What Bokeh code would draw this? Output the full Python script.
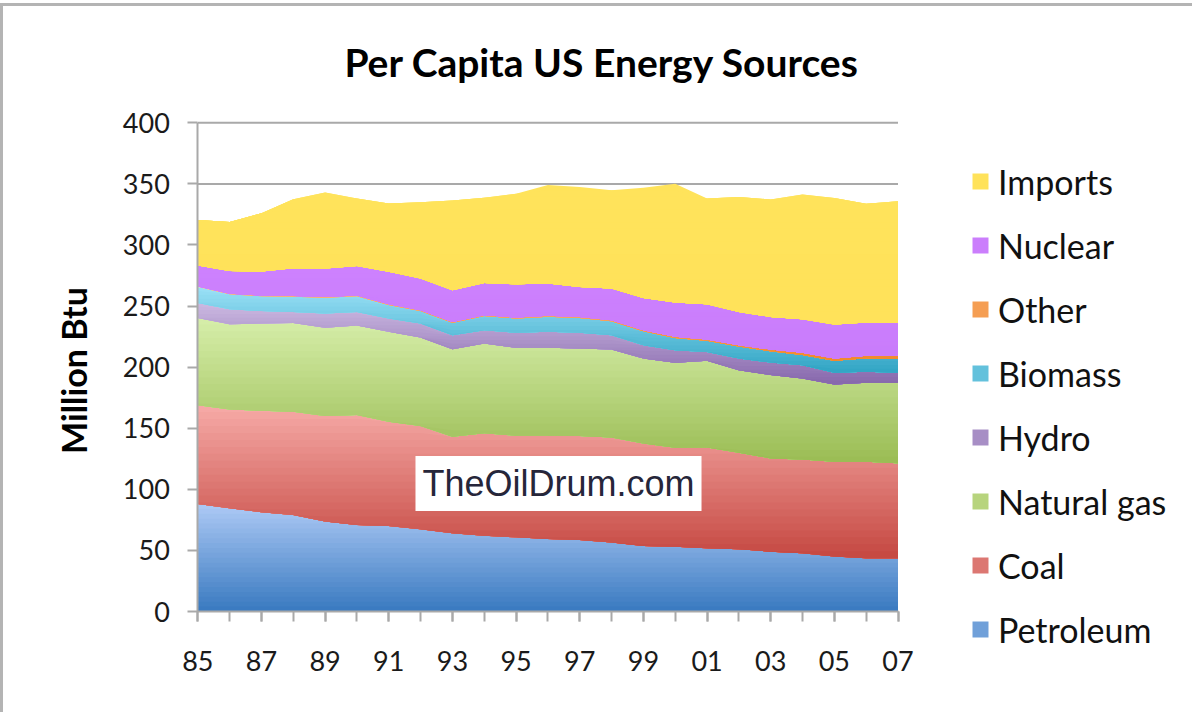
import numpy as np
from bokeh.plotting import figure
from bokeh.models import Range1d, FixedTicker, Legend, LegendItem, Label
from bokeh.embed import file_html
from bokeh.resources import INLINE

# ---------------- data (million Btu per capita) ----------------
years = list(range(1985, 2008))
x_tick_years = [1985, 1987, 1989, 1991, 1993, 1995, 1997, 1999, 2001, 2003, 2005, 2007]
x_tick_labels = ["85", "87", "89", "91", "93", "95", "97", "99", "01", "03", "05", "07"]
y_ticks = [0, 50, 100, 150, 200, 250, 300, 350, 400]

petroleum = [88.0, 84.5, 81.2, 79.0, 73.6, 70.8, 70.0, 67.3, 64.0, 61.9, 60.8, 59.4,
             58.6, 56.4, 53.7, 53.1, 51.8, 51.0, 49.0, 47.7, 45.0, 43.6, 43.6]
coal = [80.9, 80.9, 83.1, 84.5, 86.4, 90.0, 85.3, 84.5, 79.1, 83.9, 83.1, 84.5,
        85.0, 86.1, 83.9, 80.9, 82.5, 79.0, 76.3, 76.8, 77.6, 79.0, 77.7]
natural_gas = [71.4, 69.7, 71.4, 72.7, 72.2, 73.2, 73.6, 72.5, 71.6, 73.5, 71.9, 71.9,
               71.7, 71.9, 69.5, 69.5, 70.9, 67.5, 68.2, 66.2, 63.2, 64.6, 65.9]
hydro = [12.3, 12.3, 10.3, 9.0, 11.7, 11.2, 10.9, 11.4, 11.5, 10.9, 12.3, 13.1,
         12.8, 11.8, 10.9, 10.4, 7.3, 9.6, 10.3, 10.9, 9.6, 9.0, 8.2]
biomass = [13.0, 12.2, 12.0, 12.5, 13.0, 12.8, 11.1, 10.3, 10.1, 11.6, 11.8, 12.3,
           12.2, 11.4, 11.3, 10.0, 9.1, 9.7, 9.2, 8.4, 9.8, 11.1, 11.4]
other = [0.5, 0.5, 0.6, 0.6, 0.6, 0.6, 0.6, 0.6, 0.7, 0.7, 0.7, 0.8,
         0.8, 0.8, 0.9, 0.9, 1.0, 1.2, 1.4, 1.7, 1.9, 2.0, 2.5]
nuclear = [17.2, 18.5, 19.6, 22.7, 23.2, 24.2, 26.5, 25.9, 25.9, 26.4, 27.2, 26.4,
           24.6, 25.9, 26.5, 28.1, 28.9, 27.2, 26.7, 27.5, 27.8, 27.2, 27.2]
imports = [37.1, 40.2, 47.8, 56.5, 62.3, 55.2, 56.0, 62.5, 73.6, 69.8, 74.2, 80.6,
           81.7, 80.4, 90.2, 97.2, 86.5, 94.0, 96.2, 102.2, 103.5, 97.3, 99.2]

series_names = ["Petroleum", "Coal", "Natural gas", "Hydro", "Biomass", "Other", "Nuclear", "Imports"]
series_values = [petroleum, coal, natural_gas, hydro, biomass, other, nuclear, imports]
# (light colour at top of gradient, dark colour at bottom)
series_colors = [("#abc8f4", "#3b7bc1"), ("#f5a8a5", "#c64a43"), ("#d5eda8", "#9bbd55"),
                 ("#cab7e0", "#8869ad"), ("#98dff5", "#33a6c5"), ("#fbb57d", "#f08a2c"),
                 ("#cd81fe", "#c97cfb"), ("#ffe35b", "#ffe25a")]
N_LAYERS = 22

# ---------------- layout (page pixels) ----------------
PAGE_X0, PAGE_Y0 = 3, 6          # canvas origin on the page (after margin + border)
FIG_W, FIG_H = 1192, 709
X_FIRST_PX, X_LAST_PX = 197.3, 897.5   # page x of first / last year
Y0_PX, Y400_PX = 611.0, 122.3          # page y of value 0 / 400

x_per_px = (years[-1] - years[0]) / (X_LAST_PX - X_FIRST_PX)
y_per_px = (y_ticks[-1] - y_ticks[0]) / (Y0_PX - Y400_PX)
x_start = years[0] - (X_FIRST_PX - PAGE_X0) * x_per_px
x_end = x_start + FIG_W * x_per_px
y_end = (Y0_PX - PAGE_Y0) * y_per_px
y_start = y_end - FIG_H * y_per_px


def px2x(px):
    return years[0] + (px - X_FIRST_PX) * x_per_px


def px2y(py):
    return (Y0_PX - py) * y_per_px


def mix(c1, c2, t):
    a = [int(c1[i:i + 2], 16) for i in (1, 3, 5)]
    b = [int(c2[i:i + 2], 16) for i in (1, 3, 5)]
    return "#" + "".join("%02x" % int(round(a[k] + (b[k] - a[k]) * t)) for k in range(3))


p = figure(width=FIG_W, height=FIG_H, output_backend="svg", toolbar_location=None, title=None,
           x_range=Range1d(x_start, x_end), y_range=Range1d(y_start, y_end),
           min_border_left=0, min_border_right=0, min_border_top=0, min_border_bottom=0,
           background_fill_color="white", border_fill_color="white")
p.styles = {"margin-top": "3px", "border-top": "3px solid #b4b4b4", "border-left": "3px solid #b4b4b4"}
p.outline_line_color = None
p.xgrid.visible = False
p.ygrid.visible = False

# horizontal gridlines across the data extent
grid_y = [t for t in y_ticks if t > 0]
p.segment(x0=[years[0]] * len(grid_y), x1=[years[-1]] * len(grid_y), y0=grid_y, y1=grid_y,
          line_color="#a9a9a9", line_width=2)

# axes fixed at the data origin
p.xaxis.fixed_location = 0
p.yaxis.fixed_location = years[0]
p.xaxis.bounds = (years[0], years[-1])
p.yaxis.bounds = (y_ticks[0], y_ticks[-1])
p.yaxis.ticker = FixedTicker(ticks=y_ticks)
p.xaxis.ticker = FixedTicker(ticks=x_tick_years, minor_ticks=years)
p.xaxis.major_label_overrides = {y: lab for y, lab in zip(x_tick_years, x_tick_labels)}

for ax in (p.xaxis[0], p.yaxis[0]):
    ax.axis_line_color = "#a9a9a9"
    ax.axis_line_width = 2
    ax.major_tick_line_color = "#a9a9a9"
    ax.major_tick_line_width = 2
    ax.major_tick_in = 0
    ax.major_tick_out = 10
    ax.major_label_text_font = "Lato"
    ax.major_label_text_font_size = "27px"
    ax.major_label_text_color = "#1a1a1a"
p.xaxis.minor_tick_line_color = "#a9a9a9"
p.xaxis.minor_tick_line_width = 2
p.xaxis.minor_tick_in = 0
p.xaxis.minor_tick_out = 10
p.yaxis.minor_tick_line_color = None
p.xaxis.major_label_standoff = 29
p.yaxis.major_label_standoff = 18

# stacked areas with vertical gradients
bottom = np.zeros(len(years))
legend_refs = {}
for name, vals, (c_light, c_dark) in zip(series_names, series_values, series_colors):
    vals = np.array(vals, dtype=float)
    top = bottom + vals
    lo, hi = bottom.min(), top.max()
    levels = np.linspace(hi, lo, N_LAYERS, endpoint=False)
    mid_r = None
    for k, lev in enumerate(levels):
        t = k / (N_LAYERS - 1)
        y2 = np.maximum(np.minimum(top, lev), bottom)
        r = p.varea(x=years, y1=bottom.copy(), y2=y2, fill_color=mix(c_light, c_dark, t))
        if k == N_LAYERS // 2:
            mid_r = r
    legend_refs[name] = mid_r
    bottom = top

# legend (right of the data area)
LEG_LEFT_PX, LEG_BOTTOM_PX = 970, 661
items = [LegendItem(label=n, renderers=[legend_refs[n]]) for n in reversed(series_names)]
legend = Legend(items=items,
                location=(LEG_LEFT_PX - PAGE_X0, PAGE_Y0 + FIG_H - LEG_BOTTOM_PX),
                orientation="vertical", glyph_width=20, glyph_height=20, label_standoff=8,
                label_text_font="Lato", label_text_font_size="34px", label_text_color="#111111",
                spacing=0, label_height=64, padding=0, margin=0,
                border_line_color=None, background_fill_alpha=0)
p.add_layout(legend)

# title
p.add_layout(Label(x=px2x(601.5), y=px2y(61), text="Per Capita US Energy Sources",
                   text_align="center", text_baseline="alphabetic", text_font="Lato",
                   text_font_style="bold", text_font_size="39px", text_color="black"))

# y-axis title
p.add_layout(Label(x=px2x(73), y=px2y(370), text="Million Btu", angle=np.pi / 2,
                   text_align="center", text_baseline="middle", text_font="Lato",
                   text_font_style="bold", text_font_size="34px", text_color="black"))

# watermark
p.add_layout(Label(x=px2x(558), y=px2y(483), text="TheOilDrum.com", text_align="center",
                   text_baseline="middle", text_font="Liberation Sans", text_font_size="36px",
                   text_color="#26263a", background_fill_color="white", padding=7))

open("out.html", "w").write(file_html(p, INLINE))
